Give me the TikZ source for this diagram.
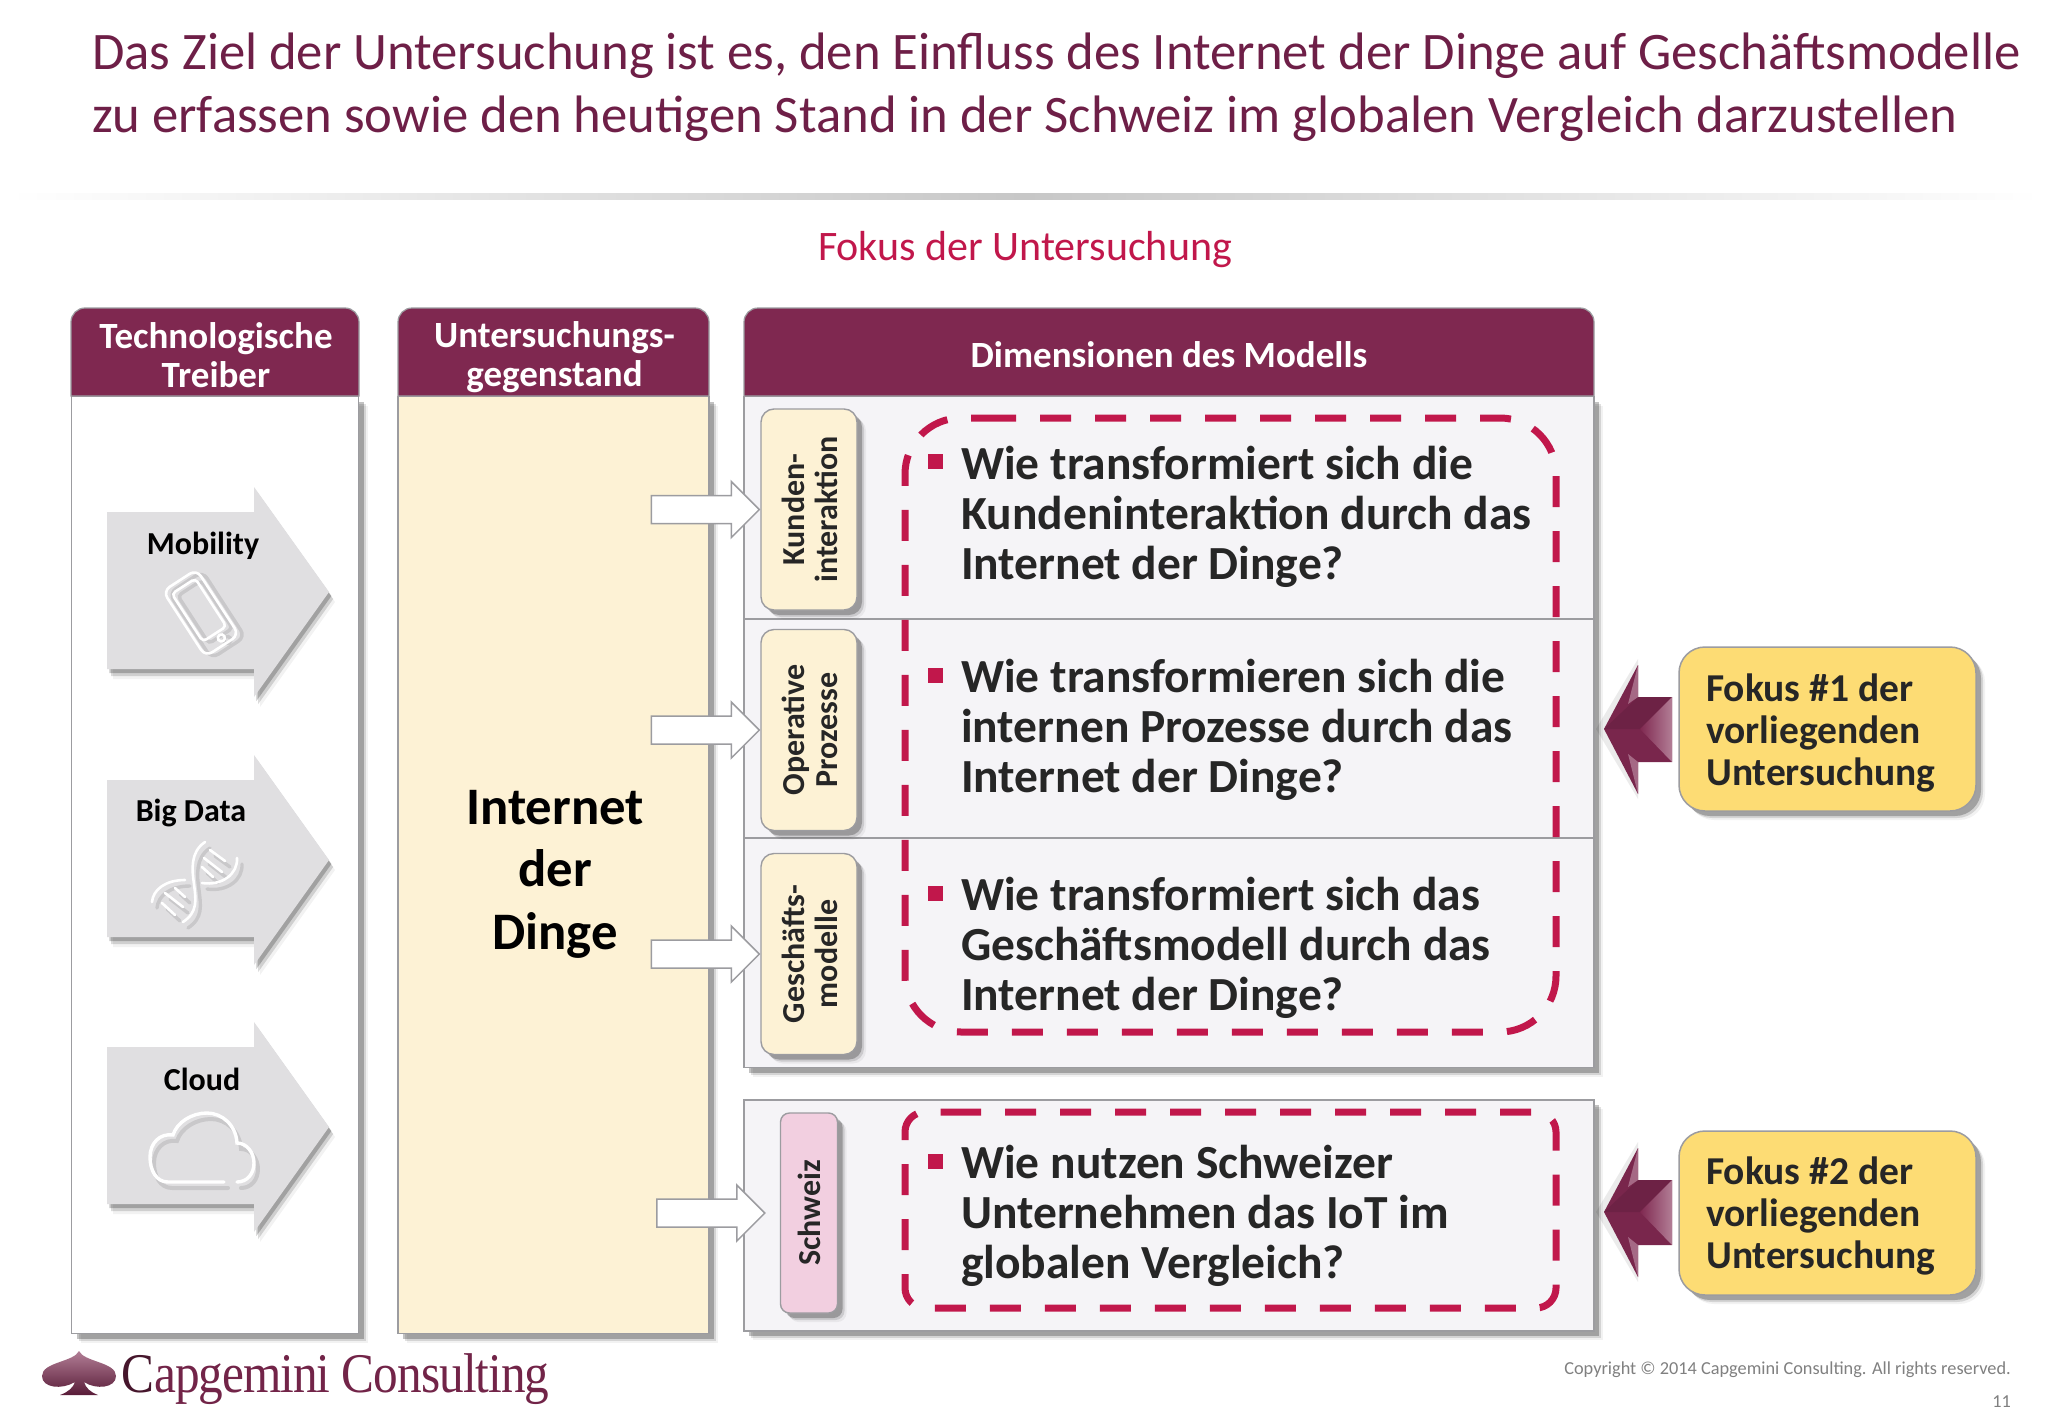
\documentclass[tikz,border=0pt]{standalone}
\usepackage{fontspec}
\setmainfont{Carlito}
\newfontfamily\logofont{Liberation Serif}
\usetikzlibrary{shadows,fadings,calc}
\definecolor{plum}{HTML}{7F2850}
\definecolor{titlecol}{HTML}{6E1F47}
\definecolor{crim}{HTML}{C1174B}
\definecolor{tan}{HTML}{FDF2D5}
\definecolor{rowbg}{HTML}{F5F4F7}
\definecolor{pinkbox}{HTML}{F2CFE0}
\definecolor{gold}{HTML}{FDDC74}
\definecolor{edge}{HTML}{9C9CA0}
\definecolor{darktxt}{HTML}{262626}
\definecolor{arrowgrey}{HTML}{E0DFE1}
\tikzset{
 softshadow/.style={
  general shadow={shadow xshift=9pt,shadow yshift=-9pt,fill=black,opacity=.05},
  general shadow={shadow xshift=7pt,shadow yshift=-7pt,fill=black,opacity=.12},
  general shadow={shadow xshift=5pt,shadow yshift=-5pt,fill=black,opacity=.24}},
 panel/.style={draw=edge,line width=1.6pt,softshadow,inner sep=0pt},
 hdr/.style={fill=plum,draw=edge,line width=1.2pt},
 hdrtxt/.style={text=white,font=\bfseries\fontsize{37}{39}\selectfont,align=center},
 tab/.style={draw=edge,line width=1.4pt,rounded corners=13pt,softshadow,inner sep=0pt,text=darktxt,font=\bfseries\fontsize{32}{33}\selectfont},
 qtxt/.style={anchor=west,align=left,text=darktxt,inner sep=0pt,font=\bfseries\fontsize{47.5}{50}\selectfont},
 bulletbox/.style={fill=crim,minimum size=15pt,inner sep=0pt},
 reddash/.style={draw=crim,line width=7pt,dash pattern=on 31pt off 24pt},
 hollow/.style={draw=edge,line width=1.5pt,fill=white},
 greyarrow/.style={fill=arrowgrey},
 drvtxt/.style={font=\bfseries\fontsize{32}{34}\selectfont,text=black},
 callout/.style={draw=edge,line width=1.5pt,fill=gold,rounded corners=26pt,softshadow,minimum width=297pt,minimum height=164pt,inner sep=0pt},
 calltxt/.style={anchor=west,align=left,text=darktxt,inner sep=0pt,font=\bfseries\fontsize{39.5}{42}\selectfont},
 iconline/.style={draw=white,line width=2.6pt,line cap=round},
 iconshadow/.style={draw=black,opacity=.10,line width=3.4pt,line cap=round}
}
\newcommand{\blockarrow}[2]{% node, gap between tip and node
 \draw[hollow] ([xshift=-108pt-#2pt,yshift=14pt]#1.west) -- ([xshift=-28pt-#2pt,yshift=14pt]#1.west)
  -- ([xshift=-28pt-#2pt,yshift=28pt]#1.west) -- ([xshift=-#2pt]#1.west)
  -- ([xshift=-28pt-#2pt,yshift=-28pt]#1.west) -- ([xshift=-28pt-#2pt,yshift=-14pt]#1.west)
  -- ([xshift=-108pt-#2pt,yshift=-14pt]#1.west) -- cycle;}
\newcommand{\arrowoutline}{(107,-80) -- (254,-80) -- (254,-105) -- (329,0) -- (254,105) -- (254,77) -- (107,77) -- cycle}
\newcommand{\driverarrow}[1]{% y of tip
 \begin{scope}[yshift=-#1pt]
  \foreach \d/\o in {10/.05,7/.14,4/.22}{
   \fill[black,opacity=\o,xshift=.6*\d pt,yshift=-\d pt] \arrowoutline;}
  \fill[greyarrow] \arrowoutline;
 \end{scope}}
\newcommand{\focusarrow}[1]{% y of tip
 \begin{scope}[yshift=-#1pt]
  \fill[black,opacity=.08] (1596,0) -- (1638,-70) -- (1638,70) -- cycle;
  \fill[plum!95!black] (1604,0) -- (1638,-64) -- (1638,-32) -- (1672,-32) -- (1672,33) -- (1638,33) -- (1638,65) -- cycle;
  \fill[black!14!plum] (1638,-32) -- (1672,-32) -- (1640,0) -- (1604,0) -- cycle;
  \shade[left color=plum,right color=plum!60!white] (1640,0) -- (1672,-32) -- (1672,33) -- cycle;
  \fill[plum!70!white] (1638,-64) -- (1638,-32) -- (1628,-25) -- cycle;
  \fill[plum!70!white] (1638,65) -- (1638,33) -- (1628,25) -- cycle;
 \end{scope}}
\newcommand{\cloudpath}{(224,1182) -- (168,1182) .. controls (156,1182) and (150,1170) .. (150,1157) .. controls (150,1143) and (160,1133) .. (173,1135) .. controls (177,1122) and (192,1113) .. (207,1113) .. controls (222,1113) and (236,1125) .. (237,1143) .. controls (247,1143) and (254,1153) .. (254,1163) .. controls (254,1174) and (247,1182) .. (237,1182)}
\newcommand{\dnapath}{(205,842) .. controls (190,852) and (192,870) .. (194,884) .. controls (196,900) and (198,912) .. (183,922)
 (237,858) .. controls (238,874) and (222,886) .. (202,883)
 (152,902) .. controls (153,890) and (165,880) .. (185,880)
 (210,850) -- (225,861) (204,858) -- (222,872) (202,867) -- (213,877)
 (175,888) -- (185,897) (165,893) -- (183,907) (162,903) -- (175,915)}
\newcommand{\phonepath}{[rounded corners=8pt] (-20,-39) rectangle (20,39) [rounded corners=4pt] (-14,-32) rectangle (14,25) [sharp corners] (3.5,32) circle (3.5pt)}
\begin{document}
\begin{tikzpicture}[x=1pt,y=-1pt]
\useasboundingbox (0,0) rectangle (2048,1418);
\fill[white] (0,0) rectangle (2048,1418);
% title
\node[anchor=west,inner sep=0pt,text=titlecol,font=\fontsize{52.7}{63}\selectfont,align=left] (title) at (92,87.5)
 {Das Ziel der Untersuchung ist es, den Einfluss des Internet der Dinge auf Geschäftsmodelle\\zu erfassen sowie den heutigen Stand in der Schweiz im globalen Vergleich darzustellen};
\shade[left color=white,right color=black!22] (10,193) rectangle (1024,199);
\shade[left color=black!22,right color=white] (1024,193) rectangle (2040,199);
\node[text=crim,font=\fontsize{42}{44}\selectfont,inner sep=0pt] (focus) at (1025,250) {Fokus der Untersuchung};
% column 1
\node[panel,fill=white,minimum width=287pt,minimum height=937pt] (drivers) at (215,865) {};
\draw[hdr] (71,396) {[rounded corners=14pt] -- (71,308) -- (359,308)} -- (359,396) -- cycle;
\node[hdrtxt] (h1) at (216,355) {Technologische\\Treiber};
\driverarrow{592}
\driverarrow{860}
\driverarrow{1127}
\node[drvtxt] (d1) at (203,546) {Mobility};
\node[drvtxt] (d2) at (191,813) {Big Data};
\node[drvtxt] (d3) at (202,1079) {Cloud};
% phone icon
\begin{scope}[shift={(201,613)},rotate=33]
 \draw[iconshadow,shift={(4,5)}] \phonepath;
 \draw[iconline] \phonepath;
\end{scope}
% DNA icon
\draw[iconshadow,shift={(5,6)}] \dnapath;
\draw[iconline] \dnapath;
% cloud icon
\draw[iconshadow,line width=4pt,shift={(4,6)}] \cloudpath;
\draw[iconline,line width=3.4pt] \cloudpath;
% column 2
\node[panel,fill=tan,minimum width=311pt,minimum height=937pt] (subject) at (553.5,865) {};
\draw[hdr] (398,396) {[rounded corners=14pt] -- (398,308) -- (709,308)} -- (709,396) -- cycle;
\node[hdrtxt] (h2) at (554.5,357.5) {Untersuchungs-\\gegenstand};
\node[text=black,align=center,inner sep=0pt,font=\bfseries\fontsize{52.7}{62.5}\selectfont] (iot) at (555,874) {Internet\\der\\Dinge};
% column 3
\node[panel,fill=rowbg,minimum width=850pt,minimum height=671pt] (model) at (1169,732) {};
\draw[hdr] (744,396) {[rounded corners=14pt] -- (744,308) -- (1594,308)} -- (1594,396) -- cycle;
\node[hdrtxt] (h3) at (1169,355) {Dimensionen des Modells};
\draw[edge,line width=1.4pt] (744,619) -- (1594,619);
\draw[edge,line width=1.4pt] (744,838) -- (1594,838);
\node[panel,fill=rowbg,minimum width=850pt,minimum height=231pt] (swiss) at (1169,1215.5) {};
% tabs
\node[tab,fill=tan,minimum width=96pt,minimum height=201pt] (t1) at (809,509.5) {\hspace{10pt}\rotatebox{90}{\begin{tabular}{@{}c@{}}Kunden-\\interaktion\end{tabular}}};
\node[tab,fill=tan,minimum width=96pt,minimum height=201pt] (t2) at (809,730) {\hspace{10pt}\rotatebox{90}{\begin{tabular}{@{}c@{}}Operative\\Prozesse\end{tabular}}};
\node[tab,fill=tan,minimum width=96pt,minimum height=201pt] (t3) at (809,954) {\hspace{10pt}\rotatebox{90}{\begin{tabular}{@{}c@{}}Geschäfts-\\modelle\end{tabular}}};
\node[tab,fill=pinkbox,rounded corners=9pt,minimum width=57pt,minimum height=200pt] (t4) at (809,1213) {\rotatebox{90}{Schweiz}};
% block arrows
\blockarrow{t1}{1}
\blockarrow{t2}{1}
\blockarrow{t3}{1}
\blockarrow{t4}{15}
% dashed frames
\draw[reddash,rounded corners=56pt] (985,418) -- (1556,418) -- (1556,1032) -- (905,1032) -- (905,418) -- (985,418);
\draw[reddash,rounded corners=20pt] (950,1112) -- (1556,1112) -- (1556,1308) -- (905,1308) -- (905,1112) -- (950,1112);
% questions
\node[bulletbox] (b1) at (935,461) {};
\node[bulletbox] (b2) at (935,675) {};
\node[bulletbox] (b3) at (935,893) {};
\node[bulletbox] (b4) at (935,1161) {};
\node[qtxt] (q1) at (961,517) {Wie transformiert sich die\\Kundeninteraktion durch das\\Internet der Dinge?};
\node[qtxt] (q2) at (961,730) {Wie transformieren sich die\\internen Prozesse durch das\\Internet der Dinge?};
\node[qtxt] (q3) at (961,948) {Wie transformiert sich das\\Geschäftsmodell durch das\\Internet der Dinge?};
\node[qtxt] (q4) at (961,1216) {Wie nutzen Schweizer\\Unternehmen das IoT im\\globalen Vergleich?};
% callouts
\focusarrow{729}
\focusarrow{1212}
\node[callout] (c1) at (1827.5,729) {};
\node[callout] (c2) at (1827.5,1213) {};
\node[calltxt] (c1t) at (1706,733) {Fokus \#1 der\\vorliegenden\\Untersuchung};
\node[calltxt] (c2t) at (1706,1216) {Fokus \#2 der\\vorliegenden\\Untersuchung};
% logo
\shade[top color=plum!60!white,bottom color=black!30!plum]
 (79,1351) .. controls (84,1362) and (116,1362) .. (116,1376) .. controls (116,1388) and (96,1390) .. (84,1382) .. controls (86,1388) and (90,1392) .. (98,1395) -- (60,1395) .. controls (68,1392) and (73,1388) .. (75,1382) .. controls (62,1390) and (42,1388) .. (42,1376) .. controls (42,1362) and (74,1362) .. (79,1351) -- cycle;
\node[anchor=west,inner sep=0pt,text=plum!90!black,font=\logofont\fontsize{56}{60}\selectfont] (logo) at (121,1379) {\scalebox{.88}[1]{\addfontfeature{LetterSpace=-2}\textcolor{black!45!plum}{C}apgemini Consulting}};
% footer
\node[anchor=east,inner sep=0pt,text=black!50,font=\fontsize{18.3}{20}\selectfont] (copy) at (2011,1370) {Copyright © 2014 Capgemini Consulting. All rights reserved.};
\node[anchor=east,inner sep=0pt,text=black!50,font=\fontsize{18.3}{20}\selectfont] (page) at (2011,1402) {11};
\end{tikzpicture}
\end{document}
